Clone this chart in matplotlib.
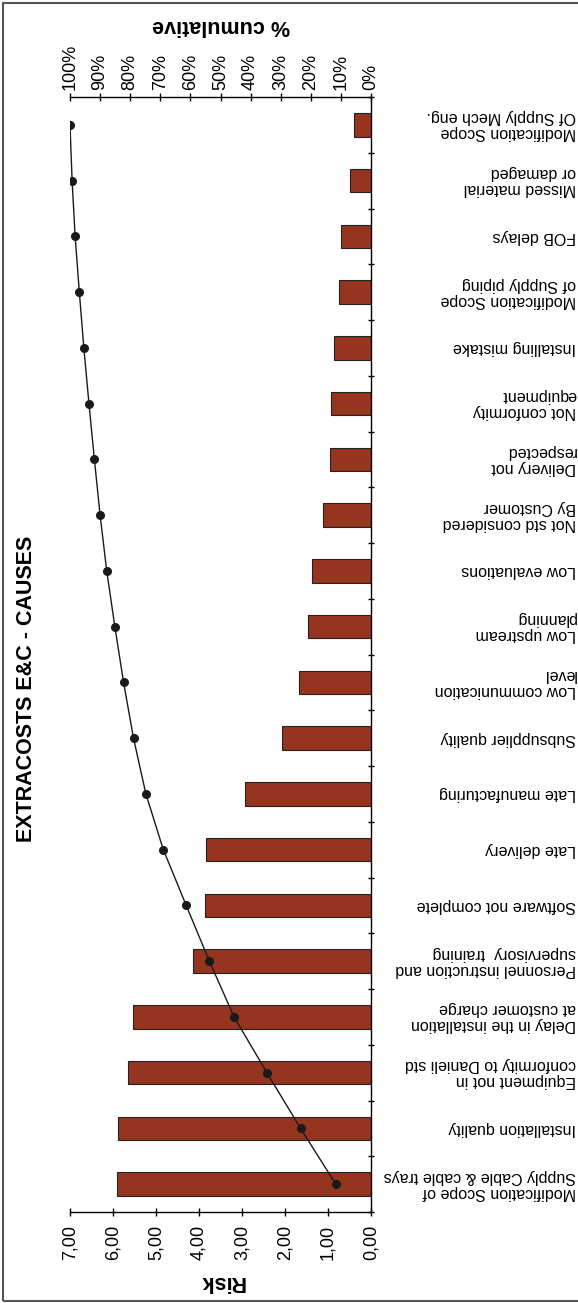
import matplotlib
matplotlib.use("Agg")
import matplotlib.pyplot as plt
import matplotlib.transforms as mtransforms
from matplotlib.patches import Rectangle
import numpy as np

plt.rcParams['font.family'] = ['Liberation Sans', 'DejaVu Sans']

categories = [
    "Modification Scope of\nSupply Cable & cable trays",
    "Installation quality",
    "Equipment not in\nconformity to Danieli std",
    "Delay in the installation\nat customer charge",
    "Personnel instruction and\nsupervisory  training",
    "Software not complete",
    "Late delivery",
    "Late manufacturing",
    "Subsupplier quality",
    "Low communication\nlevel",
    "Low upstream\nplanning",
    "Low evaluations",
    "Not std considered\nBy Customer",
    "Delivery not\nrespected",
    "Not conformity\nequipment",
    "Installing mistake",
    "Modification Scope\nof Supply piping",
    "FOB delays",
    "Missed material\nor damaged",
    "Modification Scope\nOf Supply Mech eng.",
]
risk = [5.91, 5.88, 5.65, 5.53, 4.14, 3.86, 3.84, 2.93, 2.07, 1.67,
        1.47, 1.37, 1.12, 0.95, 0.93, 0.86, 0.74, 0.70, 0.49, 0.39]
cum_pct = [11.7, 23.4, 34.6, 45.5, 53.7, 61.4, 69.0, 74.8, 78.9, 82.2,
           85.1, 87.8, 90.0, 91.9, 93.7, 95.4, 96.9, 98.3, 99.3, 100.0]
risk_ticks = [0, 1, 2, 3, 4, 5, 6, 7]
pct_ticks = [0, 10, 20, 30, 40, 50, 60, 70, 80, 90, 100]

W, H = 578, 1303
fig = plt.figure(figsize=(W / 100, H / 100), dpi=100)
ax = fig.add_axes([70 / W, 1 - 1212 / H, (371 - 70) / W, (1212 - 97) / H])

pos = np.arange(len(categories))
ax.barh(pos, risk, height=0.42, color='#96351F', edgecolor='#222222', linewidth=0.8, zorder=2)
ax.set_xlim(7, 0)
ax.set_ylim(-0.5, len(categories) - 0.5)

for s in ['left', 'top']:
    ax.spines[s].set_visible(False)
ax.spines['bottom'].set_linewidth(1.0)
ax.spines['right'].set_linewidth(1.0)

ax.set_xticks(risk_ticks)
ax.set_xticklabels([f"{v:.2f}".replace('.', ',') for v in risk_ticks], rotation=90, fontsize=13)
ax.tick_params(axis='x', direction='inout', length=6, width=1.0, pad=6)

ax.yaxis.tick_right()
ax.set_yticks(np.arange(-0.5, len(categories), 1.0))
ax.set_yticklabels([])
ax.tick_params(axis='y', direction='inout', length=5, width=1.0)

# category labels, upside down, starting at the right edge
trans = mtransforms.blended_transform_factory(fig.transFigure, ax.transData)
for p, lab in zip(pos, categories):
    ax.text(576 / W, p, lab, transform=trans, rotation=180, ha='right', va='center',
            multialignment='left', fontsize=11.5, linespacing=1.1)

# cumulative percentage on the top axis
ax2 = ax.twiny()
ax2.set_xlim(100, 0)
ax2.plot(cum_pct, pos, color='#1a1a1a', linewidth=1.0, marker='o', markersize=5.5, zorder=3)
for s in ['left', 'right', 'bottom']:
    ax2.spines[s].set_visible(False)
ax2.spines['top'].set_linewidth(1.0)
ax2.set_xticks(pct_ticks)
ax2.set_xticklabels([f"{v}%" for v in pct_ticks], rotation=90, fontsize=13)
ax2.tick_params(axis='x', direction='inout', length=6, width=1.0, pad=2)

fig.text(222 / W, 1 - 1282 / H, 'Risk', rotation=180, ha='center', va='center',
         fontsize=15.5, fontweight='bold')
fig.text(221 / W, 1 - 26 / H, '% cumulative', rotation=180, ha='center', va='center',
         fontsize=15.5, fontweight='bold')
fig.text(27 / W, 1 - 689 / H, 'EXTRACOSTS E&C - CAUSES', rotation=90, ha='center', va='center',
         fontsize=15.5, fontweight='bold')

fig.patches.append(Rectangle((3 / W, 2 / H), 1, 1 - 5 / H, transform=fig.transFigure,
                             fill=False, edgecolor='#555555', linewidth=1.5))

fig.savefig('out.png', dpi=100)
